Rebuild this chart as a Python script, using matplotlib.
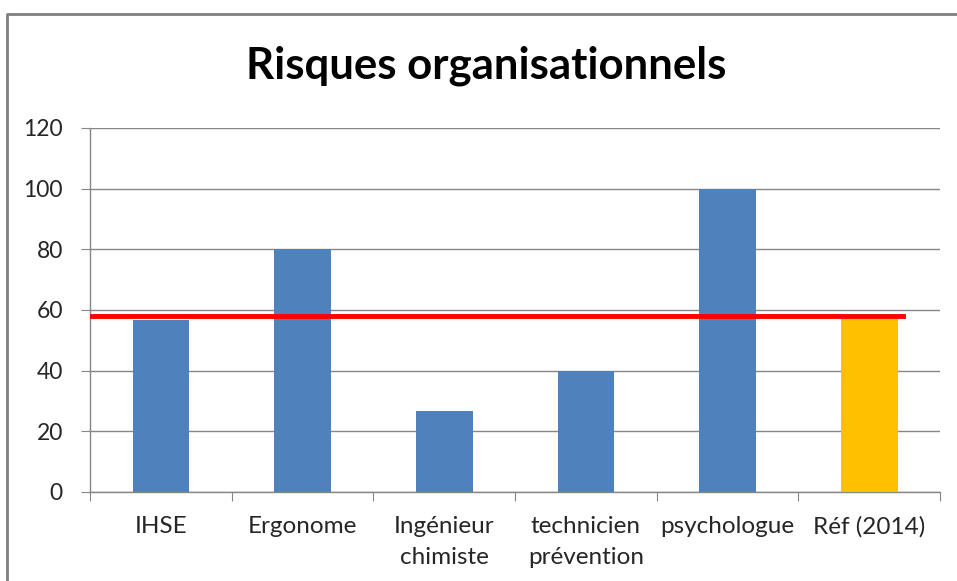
import matplotlib.pyplot as plt
import numpy as np

# Data
categories = ['IHSE', 'Ergonome', 'Ingénieur\nchimiste', 'technicien\nprévention', 'psychologue', 'Réf (2014)']
values = [56.7, 80, 26.7, 40, 100, 57.3]
bar_colors = ['#4F81BD', '#4F81BD', '#4F81BD', '#4F81BD', '#4F81BD', '#FFC000']
ref_level = 58
ref_line_x = [-0.5, 5.24]

plt.rcParams['font.family'] = ['Lato', 'DejaVu Sans']

fig = plt.figure(figsize=(9.57, 5.81), dpi=100)
W, H = 957, 581
ax = fig.add_axes([90 / W, (H - 492) / H, 850 / W, (492 - 128) / H])

x = np.arange(len(categories))
ax.bar(x, values, width=0.4, color=bar_colors, zorder=3)
ax.plot(ref_line_x, [ref_level, ref_level], color='#FF0000', linewidth=3.5, zorder=4)

ax.set_xlim(-0.5, len(categories) - 0.5)
ax.set_ylim(0, 120)
ax.set_yticks(np.arange(0, 121, 20))
ax.set_xticks(np.arange(-0.5, len(categories), 1), minor=False)
ax.set_xticklabels([])
ax.set_xticks(x, minor=True)
ax.set_xticklabels(categories, minor=True, fontsize=17.5, color='#262626',
                   linespacing=1.6)
ax.tick_params(axis='x', which='minor', length=0, pad=17)
ax.tick_params(axis='x', which='major', length=6.5, color='#868686', direction='out')
ax.tick_params(axis='y', length=6.5, color='#868686', labelsize=16.5,
               labelcolor='#262626', pad=13)

ax.grid(axis='y', color='#868686', linewidth=1, zorder=0)
for side in ['top', 'right']:
    ax.spines[side].set_visible(False)
for side in ['left', 'bottom']:
    ax.spines[side].set_color('#868686')
    ax.spines[side].set_linewidth(1)

fig.text(486 / W, 1 - 66 / H, 'Risques organisationnels', ha='center', va='center',
         fontsize=31.5, fontweight='bold', color='black')

# outer chart frame (only top and left visible in the crop)
frame_x = [7 / W, 7 / W, 1.0]
frame_y = [0.0, 1 - 14 / H, 1 - 14 / H]
fig.add_artist(plt.Line2D(frame_x, frame_y, transform=fig.transFigure,
                          color='#808080', linewidth=2))

plt.savefig('out.png', dpi=100)
plt.close()
